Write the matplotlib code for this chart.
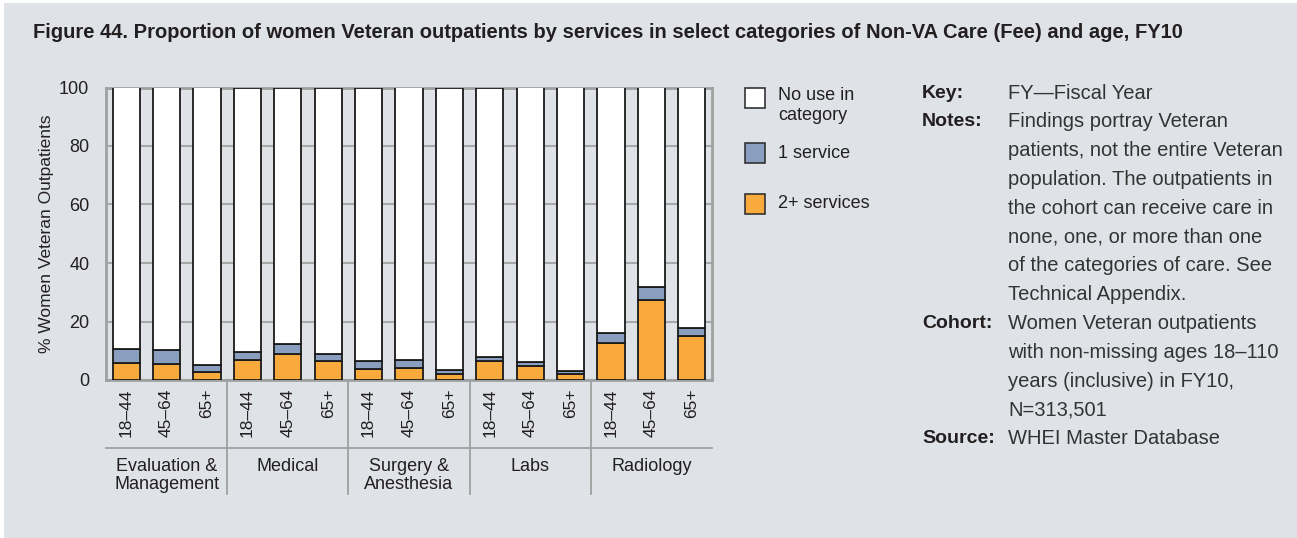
import matplotlib
matplotlib.use("Agg")
import matplotlib.pyplot as plt
from matplotlib.patches import Rectangle
import numpy as np

plt.rcParams['font.family'] = ['Liberation Sans Narrow', 'Liberation Sans', 'DejaVu Sans']

groups = ["Evaluation &\nManagement", "Medical", "Surgery &\nAnesthesia", "Labs", "Radiology"]
ages = ["18\u201344", "45\u201364", "65+"]
two_plus = [5.9, 5.4, 2.6, 6.9, 8.9, 6.4, 3.8, 4.0, 2.0, 6.5, 4.8, 2.2, 12.6, 27.4, 15.0]
one_service = [4.7, 4.7, 2.6, 2.8, 3.4, 2.5, 2.7, 2.8, 1.4, 1.4, 1.5, 1.0, 3.6, 4.3, 2.7]
no_use = [100 - a - b for a, b in zip(two_plus, one_service)]

BG = "#dfe2e7"
ORANGE = "#f9aa3c"
BLUE = "#8a9fbf"
TXT = "#231f20"

fig = plt.figure(figsize=(12.97, 5.38), dpi=100)
fig.patch.set_facecolor("white")
fig.add_artist(Rectangle((4 / 1297, 0), 1, 1 - 3 / 538, transform=fig.transFigure,
                         facecolor=BG, edgecolor="none", zorder=-10))

fig.text(33 / 1297, 1 - 33 / 538,
         "Figure 44. Proportion of women Veteran outpatients by services in select categories of Non-VA Care (Fee) and age, FY10",
         fontsize=14.5, fontweight="bold", color=TXT, va="center", ha="left")

ax = fig.add_axes([106 / 1297, 1 - 380 / 538, (712 - 106) / 1297, (380 - 87.5) / 538])
ax.set_facecolor(BG)
x = np.arange(len(two_plus))
w = 0.67
ax.bar(x, two_plus, w, color=ORANGE, edgecolor="#1a1a1a", linewidth=1.3, zorder=3)
ax.bar(x, one_service, w, bottom=two_plus, color=BLUE, edgecolor="#1a1a1a", linewidth=1.3, zorder=3)
bottoms = [a + b for a, b in zip(two_plus, one_service)]
ax.bar(x, no_use, w, bottom=bottoms, color="white", edgecolor="#1a1a1a", linewidth=1.3, zorder=3)

ax.set_xlim(-0.5, len(two_plus) - 0.5)
ax.set_ylim(0, 100)
ax.set_yticks([0, 20, 40, 60, 80, 100])
ax.tick_params(axis="y", length=0, labelsize=13, pad=12, colors=TXT)
ax.yaxis.grid(True, color="#a8a8a8", linewidth=1.5, zorder=0)
ax.set_axisbelow(True)
for s in ax.spines.values():
    s.set_color("#a0a0a0")
    s.set_linewidth(2)

ax.set_xticks(x)
ax.set_xticklabels(ages * len(groups), rotation=90, fontsize=12.5, color=TXT)
ax.tick_params(axis="x", length=0, pad=6)

ax.set_ylabel("% Women Veteran Outpatients", fontsize=12.5, color=TXT, labelpad=4)

tr = ax.get_xaxis_transform()
ph = 380 - 87.5
ax.plot([-0.5, len(two_plus) - 0.5], [-(448 - 380) / ph] * 2, transform=tr, clip_on=False,
        color="#a0a0a0", linewidth=1.3)
for g in range(1, len(groups)):
    xs = g * 3 - 0.5
    ax.plot([xs, xs], [0, -(494 - 380) / ph], transform=tr, clip_on=False,
            color="#a0a0a0", linewidth=1.3)
for g, name in enumerate(groups):
    ax.text(g * 3 + 1, -(458 - 380) / ph, name, transform=tr, ha="center", va="top",
            fontsize=13, color=TXT, linespacing=1.1)

# legend
leg_items = [("white", "No use in\ncategory", 98), (BLUE, "1 service", 153), (ORANGE, "2+ services", 204)]
for col, lab, yc in leg_items:
    fig.add_artist(Rectangle((745 / 1297, 1 - (yc + 10) / 538), 20 / 1297, 20 / 538,
                             transform=fig.transFigure, facecolor=col, edgecolor="#333333", linewidth=1.2))
    multi = "\n" in lab
    fig.text(778 / 1297, 1 - (yc - 11) / 538 if multi else 1 - yc / 538, lab,
             fontsize=13, color=TXT, va="top" if multi else "center", ha="left",
             linespacing=1.2)

# notes
notes = [
    ("Key:", ["FY\u2014Fiscal Year"]),
    ("Notes:", ["Findings portray Veteran", "patients, not the entire Veteran",
                "population. The outpatients in", "the cohort can receive care in",
                "none, one, or more than one", "of the categories of care. See",
                "Technical Appendix."]),
    ("Cohort:", ["Women Veteran outpatients", "with non-missing ages 18\u2013110",
                 "years (inclusive) in FY10,", "N=313,501"]),
    ("Source:", ["WHEI Master Database"]),
]
y = 93
step = 28.8
for head, lines in notes:
    fig.text(922 / 1297, 1 - y / 538, head, fontsize=14, fontweight="bold",
             color=TXT, va="center", ha="left")
    for ln in lines:
        fig.text(1008 / 1297, 1 - y / 538, ln, fontsize=14.5, color="#333333",
                 va="center", ha="left")
        y += step

fig.savefig("out.png", dpi=100, facecolor=fig.get_facecolor())
